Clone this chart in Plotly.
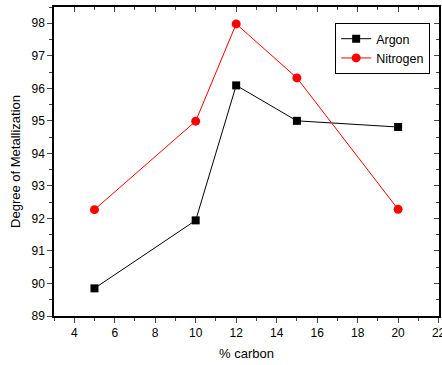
import plotly.graph_objects as go

carbon = [5, 10, 12, 15, 20]
argon = [89.85, 91.94, 96.09, 95.0, 94.81]
nitrogen = [92.27, 94.99, 97.98, 96.32, 92.28]
x_ticks = [4, 6, 8, 10, 12, 14, 16, 18, 20, 22]
y_ticks = [89, 90, 91, 92, 93, 94, 95, 96, 97, 98]

fig = go.Figure()
fig.add_trace(go.Scatter(x=carbon, y=argon, mode="lines+markers", name="Argon",
                         line=dict(color="black", width=1),
                         marker=dict(symbol="square", size=8, color="black")))
fig.add_trace(go.Scatter(x=carbon, y=nitrogen, mode="lines+markers", name="Nitrogen",
                         line=dict(color="red", width=1),
                         marker=dict(symbol="circle", size=9, color="red")))

font = dict(family="Liberation Sans, Arial", size=12, color="black")
axis_common = dict(showgrid=False, zeroline=False, showline=True, linecolor="black",
                   linewidth=1.5, automargin=False)

fig.update_layout(
    width=442, height=365,
    margin=dict(l=54, r=3, t=7, b=49),
    paper_bgcolor="white", plot_bgcolor="white",
    font=font,
    showlegend=True,
    legend=dict(x=0.977, y=0.948, xanchor="right", yanchor="top",
                bordercolor="black", borderwidth=1, bgcolor="white",
                font=dict(family="Liberation Sans, Arial", size=12.5, color="black"),
                tracegroupgap=0, itemwidth=30),
    xaxis=dict(range=[3, 22.02], tickvals=x_ticks, ticks="outside", ticklen=5, tickwidth=1,
               ticklabeloverflow="allow",
               minor=dict(dtick=1, ticks="outside", ticklen=3, tickwidth=1),
               title=dict(text="% carbon", font=dict(size=13), standoff=10),
               **axis_common),
    yaxis=dict(range=[89, 98.5], tickvals=y_ticks, ticks="outside", ticklen=5, tickwidth=1,
               minor=dict(dtick=0.5, tick0=89, ticks="outside", ticklen=3, tickwidth=1),
               title=dict(text="Degree of Metallization", font=dict(size=13), standoff=8),
               **axis_common),
    xaxis2=dict(range=[3, 22.02], overlaying="x", side="top", tickvals=x_ticks, ticks="inside",
                ticklen=5, showticklabels=False,
                minor=dict(dtick=1, ticks="inside", ticklen=3),
                **axis_common),
    yaxis2=dict(range=[89, 98.5], overlaying="y", side="right", tickvals=y_ticks, ticks="inside",
                ticklen=5, showticklabels=False,
                minor=dict(dtick=0.5, tick0=89, ticks="inside", ticklen=3),
                **axis_common),
)
fig.add_trace(go.Scatter(x=[None], y=[None], xaxis="x2", yaxis="y2", showlegend=False, hoverinfo="skip"))

fig.write_html("out.html", config={"displayModeBar": False},
               post_script="document.body.style.margin='0';document.body.style.overflow='hidden';")
